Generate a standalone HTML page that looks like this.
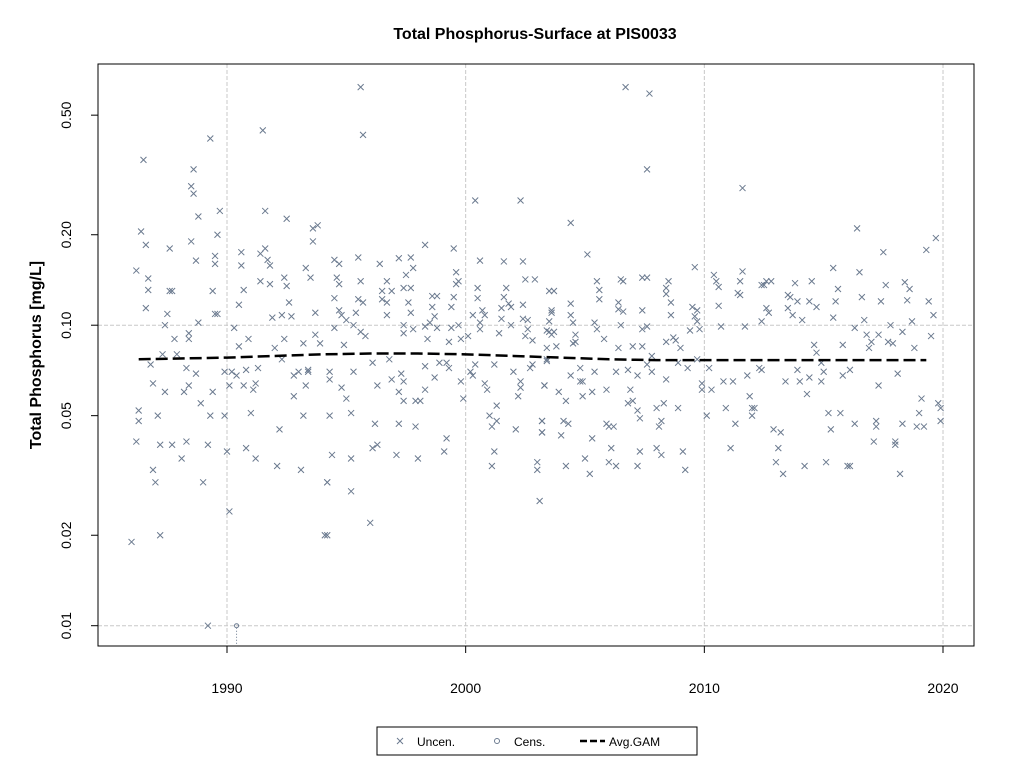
<!DOCTYPE html>
<html><head><meta charset="utf-8"><style>
body{margin:0;background:#fff;}
svg text{font-family:"Liberation Sans",Arial,sans-serif;}
</style></head><body>
<svg id="chart" width="1024" height="768" xmlns="http://www.w3.org/2000/svg">
<rect width="1024" height="768" fill="#fff"/>
<text x="535" y="39" text-anchor="middle" font-size="16" font-weight="bold">Total Phosphorus-Surface at PIS0033</text>
<text transform="translate(41,355) rotate(-90)" text-anchor="middle" font-size="16" font-weight="bold">Total Phosphorus [mg/L]</text>
<g id="grid"></g>
<g id="points"></g>
<g id="gam"></g>
<rect x="98" y="64" width="876" height="582" fill="none" stroke="#000" stroke-width="1"/>
<g id="axes"></g>
<g>
<rect x="377" y="727" width="320" height="28" fill="#fff" stroke="#000"/>
<g>
<path d="M397,738 l6,6 M403,738 l-6,6" stroke="#6b7a8f" stroke-width="1"/>
<text x="417" y="746" font-size="12">Uncen.</text></g>
<g>
<circle cx="497" cy="741" r="2.5" fill="none" stroke="#6b7a8f"/>
<text x="514" y="746" font-size="12">Cens.</text></g>
<g>
<path d="M580,741 h25" stroke="#000" stroke-width="2.5" stroke-dasharray="7,3"/>
<text x="609" y="746" font-size="12">Avg.GAM</text></g>
</g>
</svg>
<script>
const uncenYears=[1986.5,1989.3,1988.6,1988.5,1988.6,1988.8,1989.7,1986.4,1986.6,1987.6,1988.5,1989.6,1988.7,1989.5,1989.5,1986.2,1986.7,1986.7,1987.6,1987.7,1986.6,1987.5,1989.4,1989.5,1989.6,1988.8,1987.4,1987.8,1988.4,1988.4,1987.3,1987.9,1986.8,1988.3,1988.7,1986.9,1987.4,1988.2,1988.4,1989.4,1988.9,1986.3,1986.3,1987.1,1989.3,1989.9,1986.2,1987.2,1987.7,1988.3,1989.2,1988.1,1986.9,1987.0,1989.0,1990.1,1987.2,1986.0,1989.2,1990.3,1990.5,1990.9,1990.6,1990.6,1990.7,1990.5,1991.5,1991.6,1991.6,1991.4,1991.7,1991.8,1992.5,1991.4,1991.8,1992.4,1992.5,1991.9,1992.3,1992.6,1992.7,1993.6,1993.8,1993.6,1993.3,1993.5,1993.7,1993.7,1993.9,1992.4,1993.2,1992.0,1992.3,1989.9,1990.2,1990.4,1990.8,1991.3,1990.1,1990.7,1991.2,1991.1,1992.8,1993.0,1993.4,1993.4,1993.3,1992.8,1991.0,1992.2,1993.2,1990.8,1991.2,1992.1,1993.1,1994.2,1994.1,1990.0,
1995.6,1995.7,2000.4,2002.3,1998.3,1999.5,1994.5,1994.7,1995.5,1996.4,1997.2,1997.7,1997.8,1997.5,1994.6,1994.7,1995.6,1994.5,1996.7,1996.5,1996.9,1996.5,1996.7,1995.5,1995.7,1997.4,1997.7,1997.6,1997.7,1996.7,1994.7,1994.8,1995.0,1995.4,1994.5,1995.3,1995.6,1995.8,1997.4,1997.4,1997.8,1998.6,1998.8,1998.6,1998.7,1998.5,1998.3,1998.8,1998.4,1999.5,1999.4,1999.6,1999.7,1999.6,1999.7,1999.4,1999.8,1999.3,2000.1,2000.3,2000.5,2000.5,2000.6,2000.7,2000.8,2000.6,2000.6,2001.6,2002.4,2002.5,2002.9,2001.7,2001.6,2001.8,2001.5,2001.9,2001.5,2001.4,2001.9,2002.4,2002.4,2002.6,2002.6,2002.5,2002.8,2003.5,2003.6,2003.5,1994.9,1996.1,1996.8,1994.3,1994.3,1995.3,1994.8,1995.0,1996.3,1996.9,1997.4,1997.3,1997.2,1997.4,1998.3,1998.7,1998.3,1997.9,1998.1,1998.9,1999.2,1999.3,1999.8,1999.9,2000.2,2000.3,2000.4,2000.8,2000.9,2001.3,2001.2,2002.0,2002.3,2002.3,2002.2,2002.7,2002.8,2003.3,2003.4,1994.3,1995.2,1996.2,1997.2,1997.9,2001.0,2001.3,2001.1,2002.1,2003.2,2003.2,1994.4,1995.2,1996.3,1996.1,1997.1,1998.0,1999.2,1999.1,2001.2,2001.1,2003.0,2003.0,1994.2,1995.2,2003.1,1996.0,1994.2,
2006.7,2007.7,2007.6,2011.6,2004.4,2005.1,2009.6,2010.4,2010.5,2010.6,2011.6,2011.5,2011.4,2011.5,2012.4,2012.6,2012.7,2012.4,2011.7,2010.6,2010.7,2003.7,2004.4,2004.4,2004.5,2003.6,2003.5,2003.4,2003.7,2003.6,2003.4,2003.8,2003.4,2004.6,2004.6,2004.5,2005.5,2005.6,2005.6,2005.4,2005.5,2005.8,2006.5,2006.6,2006.4,2006.4,2006.6,2006.5,2007.4,2007.6,2007.4,2007.4,2007.6,2006.4,2007.0,2007.4,2007.8,2008.5,2008.4,2008.4,2008.6,2008.6,2008.4,2008.7,2008.8,2009.0,2009.5,2009.7,2009.6,2009.7,2009.4,2009.8,2009.7,2010.2,2009.9,2009.9,2010.3,2004.8,2005.4,2004.4,2004.8,2004.9,2005.3,2004.9,2003.9,2004.2,2003.3,2003.2,2003.2,2006.3,2006.8,2007.2,2007.8,2007.6,2005.9,2006.9,2006.8,2007.0,2007.2,2007.3,2008.4,2008.0,2008.3,2008.9,2009.3,2008.9,2008.2,2008.1,2010.1,2010.8,2011.2,2010.9,2011.3,2011.8,2011.9,2012.0,2012.1,2012.0,2012.3,2004.1,2004.3,2004.0,2005.3,2005.9,2006.0,2006.2,2005.0,2004.2,2005.2,2006.1,2006.0,2006.3,2007.2,2007.3,2008.0,2008.2,2009.1,2009.2,2011.1,
2016.4,2019.7,2019.3,2017.5,2015.4,2016.5,2012.5,2012.8,2013.8,2014.5,2015.6,2017.6,2018.4,2018.6,2013.5,2013.6,2013.9,2014.4,2014.7,2015.5,2016.6,2017.4,2018.5,2019.4,2012.6,2013.5,2013.7,2014.1,2015.4,2016.7,2018.7,2019.6,2016.3,2016.8,2017.3,2017.8,2018.3,2019.5,2017.0,2016.9,2017.7,2017.9,2018.8,2014.6,2014.7,2014.9,2015.0,2015.8,2016.1,2015.8,2012.4,2013.9,2013.4,2014.0,2014.4,2014.9,2014.3,2017.3,2018.1,2019.1,2019.0,2019.8,2019.9,2019.9,2012.9,2013.2,2013.1,2013.0,2013.3,2014.2,2015.1,2015.3,2015.2,2015.7,2016.3,2016.0,2016.1,2017.2,2017.2,2017.1,2018.3,2018.9,2019.2,2018.0,2018.0,2018.2];
const uncenValues=[0.355,0.418,0.33,0.29,0.274,0.23,0.24,0.205,0.185,0.18,0.19,0.20,0.164,0.17,0.16,0.152,0.143,0.131,0.13,0.13,0.114,0.109,0.13,0.109,0.109,0.102,0.10,0.090,0.094,0.090,0.080,0.080,0.074,0.072,0.069,0.064,0.060,0.060,0.063,0.060,0.055,0.052,0.048,0.050,0.050,0.050,0.041,0.040,0.040,0.041,0.040,0.036,0.033,0.030,0.030,0.024,0.020,0.019,0.010,0.098,0.085,0.090,0.175,0.158,0.131,0.117,0.445,0.24,0.18,0.173,0.165,0.158,0.226,0.14,0.137,0.144,0.135,0.106,0.108,0.119,0.107,0.21,0.215,0.19,0.155,0.144,0.11,0.093,0.087,0.09,0.087,0.084,0.077,0.070,0.070,0.068,0.071,0.072,0.063,0.063,0.064,0.061,0.068,0.070,0.071,0.070,0.063,0.058,0.051,0.045,0.050,0.039,0.036,0.034,0.033,0.030,0.020,0.038,
0.62,0.43,0.26,0.26,0.185,0.18,0.165,0.16,0.168,0.16,0.167,0.168,0.155,0.147,0.144,0.137,0.14,0.123,0.14,0.13,0.13,0.122,0.119,0.122,0.119,0.133,0.133,0.119,0.11,0.108,0.112,0.108,0.104,0.11,0.098,0.1,0.095,0.092,0.1,0.094,0.097,0.125,0.125,0.115,0.107,0.102,0.099,0.098,0.09,0.124,0.115,0.15,0.14,0.137,0.1,0.098,0.09,0.088,0.092,0.108,0.133,0.123,0.164,0.112,0.108,0.102,0.097,0.163,0.163,0.142,0.142,0.133,0.124,0.118,0.114,0.115,0.105,0.094,0.1,0.117,0.105,0.104,0.097,0.092,0.089,0.13,0.112,0.095,0.086,0.075,0.077,0.07,0.066,0.07,0.062,0.057,0.063,0.066,0.065,0.069,0.06,0.056,0.073,0.067,0.061,0.056,0.056,0.075,0.075,0.072,0.065,0.057,0.07,0.068,0.074,0.064,0.061,0.054,0.074,0.07,0.065,0.062,0.058,0.072,0.074,0.063,0.076,0.05,0.051,0.047,0.047,0.046,0.05,0.048,0.046,0.045,0.048,0.044,0.037,0.036,0.04,0.039,0.037,0.036,0.042,0.038,0.038,0.034,0.035,0.033,0.03,0.028,0.026,0.022,0.020,
0.62,0.59,0.33,0.286,0.219,0.172,0.156,0.147,0.14,0.134,0.151,0.14,0.128,0.126,0.136,0.14,0.11,0.103,0.099,0.116,0.099,0.13,0.118,0.108,0.102,0.11,0.103,0.096,0.095,0.093,0.084,0.085,0.077,0.093,0.088,0.087,0.14,0.131,0.122,0.102,0.097,0.09,0.142,0.14,0.119,0.113,0.111,0.1,0.144,0.144,0.112,0.097,0.099,0.084,0.085,0.085,0.079,0.14,0.133,0.127,0.119,0.108,0.088,0.091,0.089,0.084,0.115,0.112,0.107,0.103,0.096,0.097,0.077,0.072,0.064,0.061,0.061,0.072,0.07,0.068,0.065,0.065,0.06,0.058,0.06,0.056,0.063,0.044,0.048,0.07,0.071,0.068,0.07,0.074,0.061,0.061,0.055,0.056,0.052,0.049,0.066,0.053,0.055,0.053,0.072,0.075,0.048,0.046,0.05,0.065,0.065,0.053,0.047,0.068,0.058,0.053,0.053,0.05,0.072,0.048,0.047,0.043,0.042,0.047,0.046,0.046,0.036,0.034,0.032,0.039,0.035,0.034,0.034,0.038,0.039,0.037,0.038,0.033,0.039,
0.21,0.195,0.178,0.175,0.155,0.15,0.136,0.14,0.138,0.14,0.132,0.136,0.139,0.132,0.126,0.124,0.12,0.12,0.115,0.12,0.124,0.12,0.121,0.12,0.114,0.114,0.108,0.104,0.106,0.104,0.103,0.108,0.098,0.093,0.093,0.1,0.095,0.092,0.088,0.084,0.088,0.087,0.084,0.086,0.081,0.075,0.07,0.086,0.071,0.068,0.071,0.071,0.065,0.065,0.067,0.065,0.059,0.063,0.069,0.057,0.051,0.055,0.053,0.048,0.045,0.044,0.039,0.035,0.032,0.034,0.035,0.045,0.051,0.051,0.047,0.034,0.034,0.048,0.046,0.041,0.047,0.046,0.046,0.041,0.040,0.032];
const censYears=[1990.4];
const censValues=[0.01];
const gamYears=[1986.3,1988,1990,1992,1994,1996,1998,2000,2002,2004,2006,2008,2010,2012,2014,2016,2018,2019.3];
const gamValues=[0.077,0.0775,0.078,0.079,0.080,0.0805,0.0805,0.080,0.079,0.078,0.077,0.0765,0.0765,0.0765,0.0765,0.0765,0.0765,0.0765];
const xTicks=[1990,2000,2010,2020];
const yTicks=[0.01,0.02,0.05,0.10,0.20,0.50];
const yTickLabels=["0.01","0.02","0.05","0.10","0.20","0.50"];
const yGrid=[0.01,0.1];

const NS="http://www.w3.org/2000/svg";
function X(yr){return 227+(yr-1990)*23.867;}
function Y(v){return 325.2-(Math.log10(v)+1)*300.5;}
function mk(tag,attrs,parent){const e=document.createElementNS(NS,tag);for(const k in attrs)e.setAttribute(k,attrs[k]);parent.appendChild(e);return e;}
const grid=document.getElementById('grid'),pts=document.getElementById('points'),gam=document.getElementById('gam'),axes=document.getElementById('axes');
xTicks.forEach(t=>{const l=mk('line',{x1:X(t),x2:X(t),y1:64,y2:646,stroke:'#c8c8c8','stroke-dasharray':'4,2'},grid);

});
yGrid.forEach(t=>{const l=mk('line',{x1:98,x2:974,y1:Y(t),y2:Y(t),stroke:'#c8c8c8','stroke-dasharray':'4,2'},grid);

});
uncenYears.forEach((yr,i)=>{const x=X(yr),y=Y(uncenValues[i]);
const p=mk('path',{d:`M${x-3},${y-3}L${x+3},${y+3}M${x+3},${y-3}L${x-3},${y+3}`,stroke:'#6b7a8f','stroke-width':1,fill:'none'},pts);

});
censYears.forEach((yr,i)=>{const x=X(yr),y=Y(censValues[i]);
const c=mk('circle',{cx:x,cy:y,r:2,fill:'none',stroke:'#6b7a8f'},pts);


const l=mk('line',{x1:x,x2:x,y1:y+2,y2:646,stroke:'#6b7a8f','stroke-dasharray':'1,2'},pts);

});
const gp=mk('polyline',{points:gamYears.map((yr,i)=>X(yr)+','+Y(gamValues[i])).join(' '),fill:'none',stroke:'#000','stroke-width':2.5,'stroke-dasharray':'12,5'},gam);


xTicks.forEach(t=>{const l=mk('line',{x1:X(t),x2:X(t),y1:646,y2:653,stroke:'#000'},axes);


const tx=mk('text',{x:X(t),y:693,'text-anchor':'middle','font-size':14},axes);tx.textContent=t;

});
yTicks.forEach((t,i)=>{const y=Y(t);const l=mk('line',{x1:91,x2:98,y1:y,y2:y,stroke:'#000'},axes);


const tx=mk('text',{transform:`translate(71,${y}) rotate(-90)`,'text-anchor':'middle','font-size':14},axes);tx.textContent=yTickLabels[i];

});
</script>
</body></html>
